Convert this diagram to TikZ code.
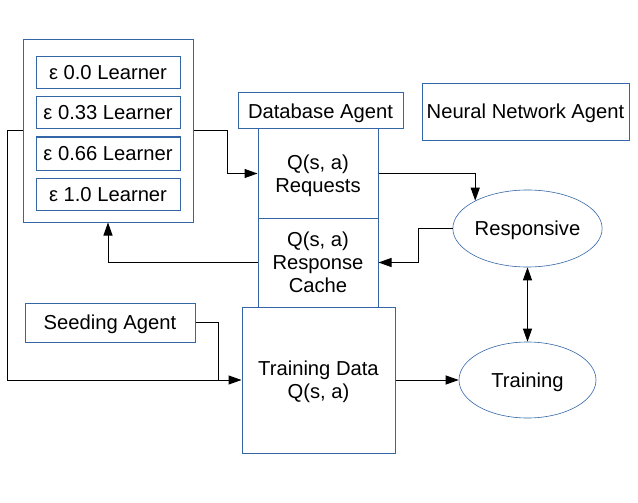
\documentclass[tikz,border=0pt]{standalone}
\usepackage{fontspec}
\setmainfont{Liberation Sans}
\usetikzlibrary{arrows.meta,shapes.geometric}
\definecolor{boxblue}{HTML}{3465A4}
\newcommand{\Zs}{\rule[-4.3pt]{0pt}{22.6pt}}
\begin{document}
\begin{tikzpicture}[x=1pt,y=-1pt,
  every node/.style={font=\fontsize{20.2}{23}\selectfont, inner sep=0pt, align=center},
  blk/.style={draw=boxblue, line width=1pt, rectangle},
  ell/.style={draw=boxblue, line width=0.6pt, ellipse},
  conn/.style={draw=black, line width=1pt},
  arr/.style={conn, -{Triangle[length=13pt,width=9pt]}},
  darr/.style={conn, {Triangle[length=13pt,width=9pt]}-{Triangle[length=13pt,width=9pt]}}]
\useasboundingbox (0,0) rectangle (638,503);
% learners
\node[blk, minimum width=170pt, minimum height=182pt] (L) at (108,131) {};
\node[blk, minimum width=144pt, minimum height=32pt] (l1) at (108,73) {\Zs ε 0.0 Learner};
\node[blk, minimum width=144pt, minimum height=32pt] (l2) at (108,113) {\Zs ε 0.33 Learner};
\node[blk, minimum width=144pt, minimum height=33pt] (l3) at (108,153.5) {\Zs ε 0.66 Learner};
\node[blk, minimum width=144pt, minimum height=32pt] (l4) at (108,194) {\Zs ε 1.0 Learner};
% database
\node[blk, minimum width=165pt, minimum height=36pt] (db) at (320.5,111) {\Zs Database Agent};
\node[blk, minimum width=120pt, minimum height=89pt] (req) at (318,173.5) {\Zs Q(s, a)\\\Zs Requests};
\node[blk, minimum width=120pt, minimum height=89pt] (cache) at (318,262.5) {\Zs Q(s, a)\\\Zs Response\\\Zs Cache};
\node[blk, minimum width=153pt, minimum height=146pt] (td) at (318.5,380) {\Zs Training Data\\\Zs Q(s, a)};
\node[blk, minimum width=170pt, minimum height=39pt] (seed) at (110,322.5) {\Zs Seeding Agent};
\node[blk, minimum width=207pt, minimum height=56pt] (nn) at (525.5,112) {\Zs Neural Network Agent};
\node[ell, minimum width=137pt, minimum height=77pt] (resp) at (527.5,228.5) {\Zs Responsive};
\node[ell, minimum width=137pt, minimum height=76pt] (train) at (527.5,380) {\Zs Training};
% connectors
\coordinate (c1) at (227,131);
\coordinate (c2) at (7,131);
\coordinate (c3) at (7,380);
\coordinate (c4) at (218,380);
\coordinate (c5) at (418,228.5);
\draw[arr] (L.east) -- (c1) |- (req.west);
\draw[arr] (L.west) -- (c2) -- (c3) -- (td.west);
\draw[conn] (seed.east) -| (c4);
\draw[arr] (req.east) -| (resp.152);
\draw[arr] (resp.west) -- (c5) |- (cache.east);
\draw[arr] (cache.west) -| (L.south);
\draw[darr] (resp.south) -- (train.north);
\draw[arr] (td.east) -- (train.west);
\end{tikzpicture}
\end{document}
